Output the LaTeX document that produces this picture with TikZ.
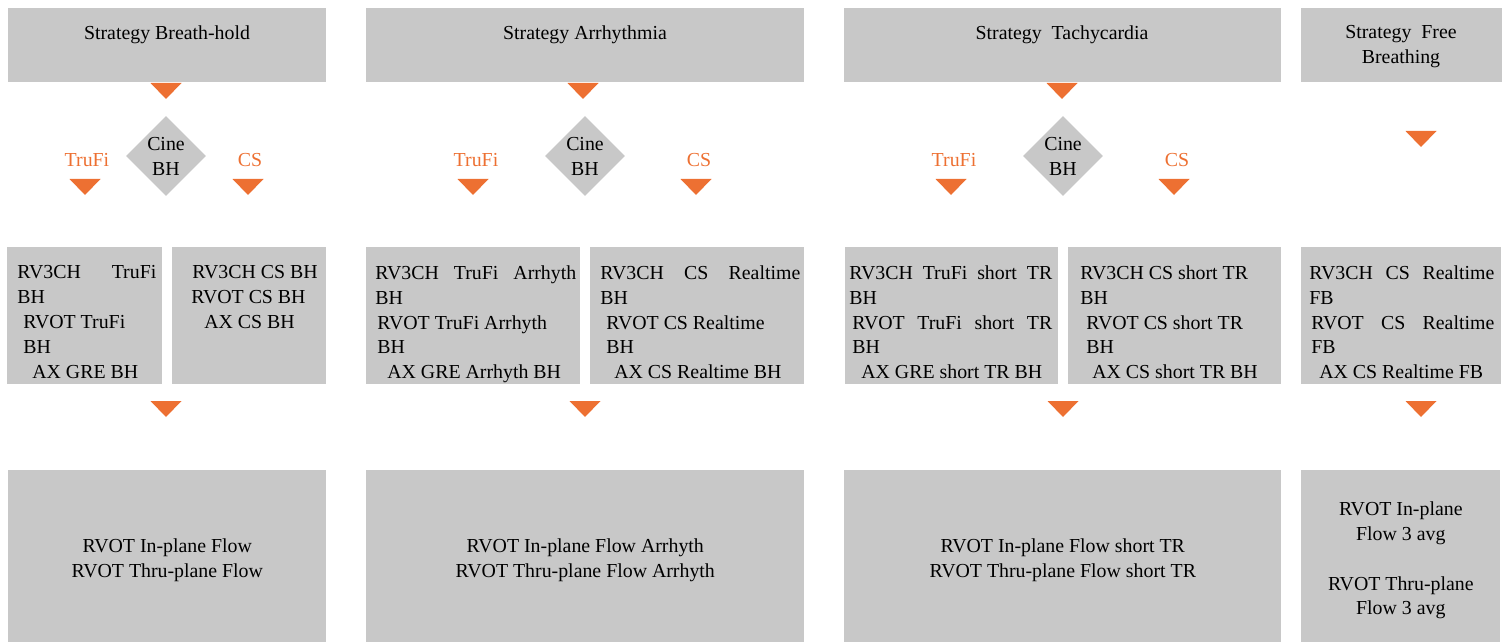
\documentclass[tikz,border=0pt]{standalone}
\usepackage{fontspec}
\setmainfont{Liberation Serif}
\usetikzlibrary{shapes.geometric}
\definecolor{boxgrey}{RGB}{200,200,200}
\definecolor{pfeilorange}{RGB}{237,112,50}

\begin{document}
\begin{tikzpicture}[x=0.02cm, y=-0.02cm, font=\fontsize{11.3}{14.2}\selectfont,
    box/.style={fill=boxgrey, inner sep=0pt, anchor=north west, align=center},
    boxtext/.style={inner sep=0pt, anchor=north west, align=left},
    toptext/.style={inner sep=0pt, anchor=north, align=center},
    cine/.style={diamond, aspect=1, fill=boxgrey, inner sep=0pt, minimum width=1.6cm, minimum height=1.6cm, align=center},
    opt/.style={pfeilorange}]

    \useasboundingbox (0,0) rectangle (1512,642);

    % top row
    \node[box, minimum width=6.36cm, minimum height=1.48cm] (topBH) at (8,8) {};
    \node[box, minimum width=8.76cm, minimum height=1.48cm] (topAR) at (366,8) {};
    \node[box, minimum width=8.74cm, minimum height=1.48cm] (topTC) at (844,8) {};
    \node[box, minimum width=4.02cm, minimum height=1.48cm] (topFB) at (1301,8) {};

    \node[toptext] (topBHt) at (167,25) {Strategy Breath-hold};
    \node[toptext] (topARt) at (585,25) {Strategy Arrhythmia};
    \node[toptext] (topTCt) at (1062,25) {Strategy\ \ Tachycardia};
    \node[toptext] (topFBt) at (1401,25) {Strategy\ \ Free\\Breathing};

    % cine + branches
    \node[cine] (cineBH) at (166,156) {Cine\\BH};
    \node[cine] (cineAR) at (585,156) {Cine\\BH};
    \node[cine] (cineTC) at (1063,156) {Cine\\BH};

    \node[opt] (trufiBH) at (87,160) {TruFi};
    \node[opt] (csBH) at (250,160) {CS};
    \node[opt] (trufiAR) at (476,160) {TruFi};
    \node[opt] (csAR) at (699,160) {CS};
    \node[opt] (trufiTC) at (954,160) {TruFi};
    \node[opt] (csTC) at (1177,160) {CS};

    % middle row
    \node[box, minimum width=3.10cm, minimum height=2.74cm] (midBHa) at (7,247) {};
    \node[box, minimum width=3.08cm, minimum height=2.74cm] (midBHb) at (172,247) {};
    \node[box, minimum width=4.28cm, minimum height=2.74cm] (midARa) at (366,247) {};
    \node[box, minimum width=4.28cm, minimum height=2.74cm] (midARb) at (590,247) {};
    \node[box, minimum width=4.26cm, minimum height=2.74cm] (midTCa) at (845,247) {};
    \node[box, minimum width=4.26cm, minimum height=2.74cm] (midTCb) at (1068,247) {};
    \node[box, minimum width=4.00cm, minimum height=2.74cm] (midFB) at (1301,247) {};

    \node[boxtext] (midBHat) at (17,265) {\makebox[2.78cm][s]{RV3CH TruFi}\\ BH\\ \hspace*{0.12cm}RVOT TruFi\\ \hspace*{0.12cm}BH\\ \hspace*{0.3cm}AX GRE BH};
    \node[boxtext] (midBHbt) at (192,265) {RV3CH CS BH\\ \hspace*{-0.02cm}RVOT CS BH\\ \hspace*{0.24cm}AX CS BH};
    \node[boxtext] (midARat) at (375,265) {\makebox[4.02cm][s]{RV3CH TruFi Arrhyth}\\ BH\\ \hspace*{0.04cm}RVOT TruFi Arrhyth\\ \hspace*{0.04cm}BH\\ \hspace*{0.24cm}AX GRE Arrhyth BH};
    \node[boxtext] (midARbt) at (600,265) {\makebox[4.0cm][s]{RV3CH CS Realtime}\\ BH\\ \hspace*{0.12cm}RVOT CS Realtime\\ \hspace*{0.12cm}BH\\ \hspace*{0.28cm}AX CS Realtime BH};
    \node[boxtext] (midTCat) at (849,265) {\makebox[4.06cm][s]{RV3CH TruFi short TR}\\ BH\\ \hspace*{0.06cm}\makebox[4.0cm][s]{RVOT TruFi short TR}\\ \hspace*{0.06cm}BH\\ \hspace*{0.24cm}AX GRE short TR BH};
    \node[boxtext] (midTCbt) at (1080,265) {RV3CH CS short TR\\ BH\\ \hspace*{0.12cm}RVOT CS short TR\\ \hspace*{0.12cm}BH\\ \hspace*{0.24cm}AX CS short TR BH};
    \node[boxtext] (midFBt) at (1309,265) {\makebox[3.7cm][s]{RV3CH CS Realtime}\\ FB\\ \hspace*{0.04cm}\makebox[3.66cm][s]{RVOT CS Realtime}\\ \hspace*{0.04cm}FB\\ \hspace*{0.2cm}AX CS Realtime FB};

    % bottom row
    \node[box, minimum width=6.36cm, minimum height=3.6cm] (botBH) at (8,470) {RVOT In-plane Flow\\RVOT Thru-plane Flow};
    \node[box, minimum width=8.76cm, minimum height=3.6cm] (botAR) at (366,470) {RVOT In-plane Flow Arrhyth\\RVOT Thru-plane Flow Arrhyth};
    \node[box, minimum width=8.74cm, minimum height=3.6cm] (botTC) at (844,470) {RVOT In-plane Flow short TR\\RVOT Thru-plane Flow short TR};
    \node[box, minimum width=3.98cm, minimum height=3.6cm] (botFB) at (1301,470) {RVOT In-plane\\Flow 3 avg\\[14.2pt]RVOT Thru-plane\\Flow 3 avg};

    % orange arrow heads
    \foreach \x/\y in {166/83, 583/83, 1062/83, 85/179, 248/179, 473/179, 696/179, 951/179, 1174/179, 1421/131, 166/401, 585/401, 1063/401, 1421/401}
        \fill[pfeilorange] (\x-15.5,\y) -- (\x+15.5,\y) -- (\x,\y+16) -- cycle;

\end{tikzpicture}
\end{document}
